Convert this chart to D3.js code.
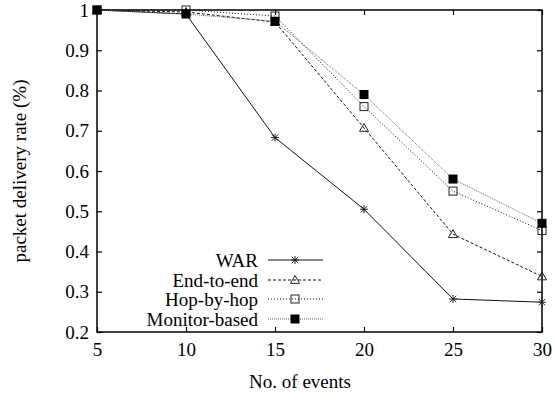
<!DOCTYPE html>
<html>
<head>
<meta charset="utf-8">
<script src="https://cdn.jsdelivr.net/npm/d3@7"></script>
<style>
  html, body { margin: 0; padding: 0; background: #fff; }
  svg text { font-family: "Liberation Serif", "DejaVu Serif", serif; fill: #000; }
</style>
</head>
<body>
<svg id="chart" width="555" height="396"></svg>
<script>
// Number of events on the x axis
const events = [5, 10, 15, 20, 25, 30];

// Packet delivery rate per scheme
const warRate      = [1.0, 0.99, 0.683, 0.505, 0.282, 0.274];
const endToEndRate = [1.0, 0.995, 0.97, 0.707, 0.443, 0.338];
const hopByHopRate = [1.0, 1.0, 0.985, 0.76, 0.55, 0.452];
const monitorRate  = [1.0, 0.99, 0.972, 0.79, 0.58, 0.47];

const seriesNames = ["WAR", "End-to-end", "Hop-by-hop", "Monitor-based"];

const xTicks = [5, 10, 15, 20, 25, 30];
const yTicks = [0.2, 0.3, 0.4, 0.5, 0.6, 0.7, 0.8, 0.9, 1];

const FONT = "'Liberation Serif', 'DejaVu Serif', serif";
const FONT_SIZE = "19px";

const svg = d3.select("#chart");
const plotLeft = 97, plotRight = 542, plotTop = 10, plotBottom = 332;

const x = d3.scaleLinear().domain([5, 30]).range([plotLeft, plotRight]);
const y = d3.scaleLinear().domain([0.2, 1]).range([plotBottom, plotTop]);

const series = [
  { name: seriesNames[0], values: warRate,      dash: null,  stroke: "#111", width: 1, marker: "star" },
  { name: seriesNames[1], values: endToEndRate, dash: "3,2", stroke: "#111", width: 1, marker: "triangle" },
  { name: seriesNames[2], values: hopByHopRate, dash: "1,2", stroke: "#111", width: 1, marker: "box" },
  { name: seriesNames[3], values: monitorRate,  dash: "1,1", stroke: "#666", width: 1, marker: "filledBox" }
];

// Axes with inward ticks, mirrored on the opposite sides
const tickLen = 5;
const fmtY = d => (d === 1 ? "1" : d3.format(".1f")(d));

const xAxisB = svg.append("g").attr("transform", `translate(0,${plotBottom})`)
  .call(d3.axisBottom(x).tickValues(xTicks).tickSizeInner(-tickLen).tickSizeOuter(0).tickPadding(11).tickFormat(d3.format("d")));
const xAxisT = svg.append("g").attr("transform", `translate(0,${plotTop})`)
  .call(d3.axisTop(x).tickValues(xTicks).tickSizeInner(-tickLen).tickSizeOuter(0).tickFormat(""));
const yAxisL = svg.append("g").attr("transform", `translate(${plotLeft},0)`)
  .call(d3.axisLeft(y).tickValues(yTicks).tickSizeInner(-tickLen).tickSizeOuter(0).tickPadding(8).tickFormat(fmtY));
const yAxisR = svg.append("g").attr("transform", `translate(${plotRight},0)`)
  .call(d3.axisRight(y).tickValues(yTicks).tickSizeInner(-tickLen).tickSizeOuter(0).tickFormat(""));

[xAxisB, xAxisT, yAxisL, yAxisR].forEach(g => {
  g.attr("font-family", null).attr("font-size", null);
  g.select(".domain").remove();
  g.selectAll(".tick line").attr("stroke", "#000").attr("stroke-width", 1.2);
  g.selectAll(".tick text").style("font-family", FONT).style("font-size", FONT_SIZE);
});

// Plot frame
svg.append("rect")
  .attr("x", plotLeft).attr("y", plotTop)
  .attr("width", plotRight - plotLeft).attr("height", plotBottom - plotTop)
  .attr("fill", "none").attr("stroke", "#000").attr("stroke-width", 1.5);

// Axis titles
svg.append("text")
  .attr("x", 300).attr("y", 388)
  .attr("text-anchor", "middle")
  .style("font-family", FONT).style("font-size", FONT_SIZE)
  .text("No. of events");

svg.append("text")
  .attr("transform", `translate(26,${(plotTop + plotBottom) / 2}) rotate(-90)`)
  .attr("text-anchor", "middle")
  .style("font-family", FONT).style("font-size", FONT_SIZE)
  .text("packet delivery rate (%)");

// Point markers
function drawMarker(g, type, cx, cy) {
  if (type === "star") {
    const r = 4;
    g.append("path")
      .attr("d", `M${cx - r},${cy}L${cx + r},${cy}M${cx},${cy - r}L${cx},${cy + r}` +
                 `M${cx - r * 0.8},${cy - r * 0.8}L${cx + r * 0.8},${cy + r * 0.8}` +
                 `M${cx - r * 0.8},${cy + r * 0.8}L${cx + r * 0.8},${cy - r * 0.8}`)
      .attr("stroke", "#222").attr("stroke-width", 1).attr("fill", "none");
  } else if (type === "triangle") {
    const r = 4.5;
    g.append("path")
      .attr("d", `M${cx},${cy - r}L${cx + r},${cy + r * 0.75}L${cx - r},${cy + r * 0.75}Z`)
      .attr("stroke", "#222").attr("stroke-width", 1).attr("fill", "none");
  } else if (type === "box") {
    const r = 4;
    g.append("rect")
      .attr("x", cx - r).attr("y", cy - r).attr("width", 2 * r).attr("height", 2 * r)
      .attr("stroke", "#222").attr("stroke-width", 1).attr("fill", "none");
  } else {
    const r = 4.5;
    g.append("rect")
      .attr("x", cx - r).attr("y", cy - r).attr("width", 2 * r).attr("height", 2 * r)
      .attr("fill", "#000");
  }
}

const line = d3.line().x((d, i) => x(events[i])).y(d => y(d));

const plot = svg.append("g");
series.forEach(s => {
  plot.append("path")
    .datum(s.values)
    .attr("d", line)
    .attr("fill", "none")
    .attr("stroke", s.stroke)
    .attr("stroke-width", s.width)
    .attr("stroke-dasharray", s.dash);
});
series.forEach(s => {
  const g = plot.append("g");
  s.values.forEach((v, i) => drawMarker(g, s.marker, x(events[i]), y(v)));
});

// Legend
const legend = svg.append("g");
const legendY = [260, 280, 299, 319];
series.forEach((s, i) => {
  const ly = legendY[i];
  legend.append("text")
    .attr("x", 258).attr("y", ly)
    .attr("dy", "0.35em")
    .attr("text-anchor", "end")
    .style("font-family", FONT).style("font-size", FONT_SIZE)
    .text(s.name);
  legend.append("line")
    .attr("x1", 268).attr("x2", 323)
    .attr("y1", ly).attr("y2", ly)
    .attr("stroke", s.stroke)
    .attr("stroke-width", s.width)
    .attr("stroke-dasharray", s.dash);
  drawMarker(legend, s.marker, 295, ly);
});
</script>
</body>
</html>
